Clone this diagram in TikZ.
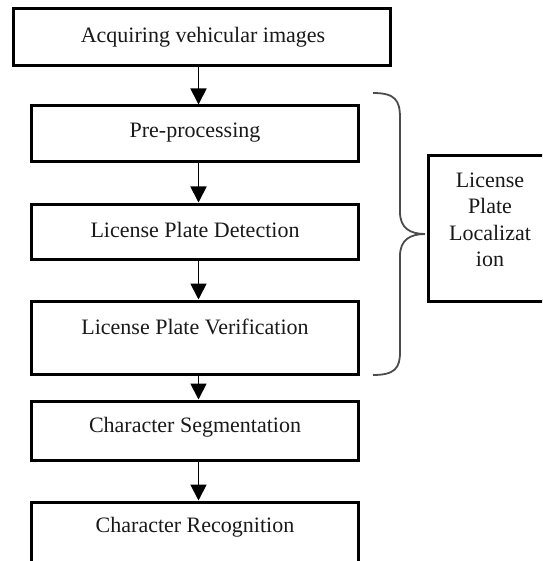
\documentclass[tikz,border=0pt]{standalone}
\usepackage{fontspec}
\setmainfont{Liberation Serif}
\usetikzlibrary{arrows.meta}
\tikzset{
  stepbox/.style={draw=black, line width=3pt, rectangle, inner sep=0pt},
  txt/.style={font=\fontsize{22}{26.5}\selectfont, text=black!90, inner sep=0pt, align=center},
  arr/.style={line width=1.8pt, -{Triangle[width=16pt,length=16pt]}},
  bracestyle/.style={draw=black!70, line width=1.8pt}
}
\begin{document}
\begin{tikzpicture}[x=1pt,y=-1pt]
\useasboundingbox (0,0) rectangle (542,561);
\clip (0,0) rectangle (542,561);
\fill[white] (0,0) rectangle (542,561);
% boxes
\node[stepbox, minimum width=377pt, minimum height=57pt] (b1) at (201.5,37.5) {};
\node[stepbox, minimum width=327pt, minimum height=56pt] (b2) at (194.5,134) {};
\node[stepbox, minimum width=327pt, minimum height=55pt] (b3) at (194.5,231.5) {};
\node[stepbox, minimum width=327pt, minimum height=73pt] (b4) at (194.5,337.5) {};
\node[stepbox, minimum width=327pt, minimum height=59pt] (b5) at (194.5,430.5) {};
\node[stepbox, minimum width=327pt, minimum height=73pt] (b6) at (194.5,538.5) {};
\node[stepbox, minimum width=124pt, minimum height=145pt] (loc) at (490,228.5) {};
% texts
\node[txt] (t1) at (203,37) {Acquiring vehicular images};
\node[txt] (t2) at (195,133) {Pre-processing};
\node[txt] (t3) at (195,230) {License Plate Detection};
\node[txt] (t4) at (195,327) {License Plate Verification};
\node[txt] (t5) at (195,427) {Character Segmentation};
\node[txt] (t6) at (195,527) {Character Recognition};
\node[txt] (tl) at (490,220) {License\\Plate\\Localizat\\ion};
% arrows
\coordinate (ax) at (198.5,0);
\draw[arr] (b1.south -| ax) -- (b2.north -| ax);
\draw[arr] (b2.south -| ax) -- (b3.north -| ax);
\draw[arr] (b3.south -| ax) -- (b4.north -| ax);
\draw[arr] (b4.south -| ax) -- (b5.north -| ax);
\draw[arr] (b5.south -| ax) -- (b6.north -| ax);
% brace
\draw[bracestyle] (373,93) .. controls (395,93) and (400,100) .. (400,118)
  -- (400,212) .. controls (400,228) and (410,234) .. (425,234)
  .. controls (410,234) and (400,240) .. (400,256)
  -- (400,352) .. controls (400,368) and (395,375) .. (373,375);
\end{tikzpicture}
\end{document}
